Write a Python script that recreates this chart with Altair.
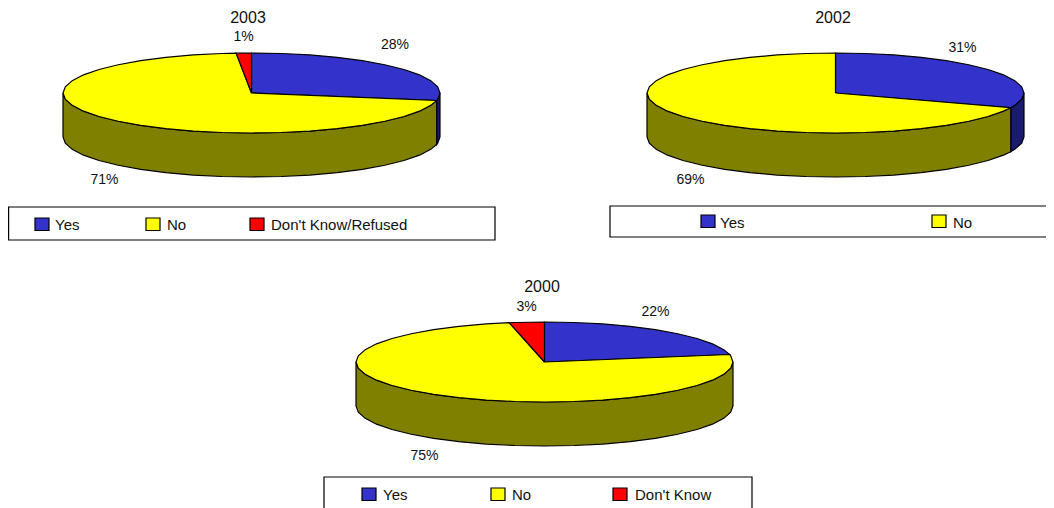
import math
import altair as alt
import pandas as pd

YEARS = ["2003", "2002", "2000"]
YES = [28, 31, 22]
NO = [70.7, 69, 75]
OTHER = [1.3, 0, 3]
OTHER_NAMES = ["Don't Know/Refused", None, "Don't Know"]

SLICE_NAMES = ["Yes", "No", "Other"]
COLORS = {"Yes": "#3333CC", "No": "#FFFF00", "Other": "#FF0000",
          "Yes wall": "#1A1A6E", "No wall": "#808000", "Other wall": "#800000"}

# layout (page pixels)
CENTERS = [(251.5, 93), (835.5, 93), (544.5, 362)]
RX, RY, DEPTH = 188.5, 40, 44
STEP = 9.0
TITLE_POS = [(248, 23), (833, 23), (542, 292)]
LABEL_POS = [
    {"Yes": (395, 49), "No": (104.5, 184), "Other": (243.5, 41)},
    {"Yes": (962.5, 52), "No": (690.5, 184)},
    {"Yes": (655.5, 316), "No": (424.5, 460), "Other": (526.5, 311)},
]
BOXES = [(8.6, 495, 207, 240), (610, 1070, 206, 237), (324, 752, 477, 530)]
SWATCH_X = [
    {"Yes": 35, "No": 146, "Other": 250},
    {"Yes": 701, "No": 932},
    {"Yes": 362, "No": 491, "Other": 613},
]
SWATCH_Y = [218, 215, 488]
SWATCH_SIZE = (14, 12.5)
TEXT_X = [
    {"Yes": 55, "No": 167, "Other": 271},
    {"Yes": 720, "No": 953},
    {"Yes": 383, "No": 512, "Other": 635},
]
TEXT_Y = [230, 228, 500]


def angles(a, b):
    pts = [a]
    t = (math.floor(a / STEP) + 1) * STEP
    while t < b - 1e-6:
        pts.append(t)
        t += STEP
    pts.append(b)
    return pts


def pt(c, deg, drop=0):
    r = math.radians(deg)
    return c[0] + RX * math.sin(r), c[1] - RY * math.cos(r) + drop


tops, walls = [], []
boxes, swatches, legend_text, pct_text, titles = [], [], [], [], []
for i, year in enumerate(YEARS):
    c = CENTERS[i]
    vals = {"Yes": YES[i], "No": NO[i], "Other": OTHER[i]}
    total = sum(vals.values())
    start = 0.0
    for name in SLICE_NAMES:
        v = vals[name]
        if v <= 0:
            continue
        end = start + 360.0 * v / total
        pid = f"{year}-{name}"
        ring = [c] + [pt(c, a) for a in angles(start, end)] + [c]
        for k, (x, y) in enumerate(ring):
            tops.append(dict(poly=pid, part=name, x=x, y=y, k=k))
        a0, a1 = max(start, 90.0), min(end, 270.0)
        if a1 > a0:
            arc = angles(a0, a1)
            ring = [pt(c, a) for a in arc] + [pt(c, a, DEPTH) for a in reversed(arc)]
            ring.append(ring[0])
            for k, (x, y) in enumerate(ring):
                walls.append(dict(poly=pid + " wall", part=name + " wall", x=x, y=y, k=k))
        lx, ly = LABEL_POS[i][name]
        pct_text.append(dict(x=lx, y=ly, t=f"{round(v)}%"))
        start = end
    x0, x1, y0, y1 = BOXES[i]
    boxes.append(dict(x=x0, x2=x1, y=y0, y2=y1))
    tx, ty = TITLE_POS[i]
    titles.append(dict(x=tx, y=ty, t=year))
    for name in SLICE_NAMES:
        if name not in SWATCH_X[i]:
            continue
        sx, sy = SWATCH_X[i][name], SWATCH_Y[i]
        swatches.append(dict(x=sx, x2=sx + SWATCH_SIZE[0], y=sy, y2=sy + SWATCH_SIZE[1], part=name))
        legend_text.append(dict(x=TEXT_X[i][name], y=TEXT_Y[i],
                                t=OTHER_NAMES[i] if name == "Other" else name))

X = alt.Scale(domain=[8, 1046], nice=False, zero=False)
Y = alt.Scale(domain=[508, 8], nice=False, zero=False)
FILL = alt.Scale(domain=list(COLORS), range=list(COLORS.values()))


def q(field, scale):
    return alt.X(field, type="quantitative", scale=scale, axis=None) if scale is X \
        else alt.Y(field, type="quantitative", scale=scale, axis=None)


def polys(rows):
    return alt.Chart(pd.DataFrame(rows)).mark_line(stroke="black", strokeWidth=1.2, clip=True).encode(
        x=q("x", X), y=q("y", Y),
        fill=alt.Fill("part:N", scale=FILL, legend=None),
        detail="poly:N",
        order="k:Q",
    )


def rects(rows, **kw):
    enc = dict(x=q("x", X), x2="x2:Q", y=q("y", Y), y2="y2:Q")
    if "part" in rows[0]:
        enc["fill"] = alt.Fill("part:N", scale=FILL, legend=None)
    return alt.Chart(pd.DataFrame(rows)).mark_rect(stroke="black", strokeWidth=1.2, clip=True, **kw).encode(**enc)


def texts(rows, size, align):
    return alt.Chart(pd.DataFrame(rows)).mark_text(
        font="Liberation Sans", fontSize=size, align=align, baseline="alphabetic", color="#111111"
    ).encode(x=q("x", X), y=q("y", Y), text="t:N")


chart = alt.layer(
    rects(boxes, fill="white"),
    rects(swatches),
    texts(legend_text, 15, "left"),
    polys(walls),
    polys(tops),
    texts(pct_text, 14, "center"),
    texts(titles, 16, "center"),
).resolve_scale(x="shared", y="shared").properties(
    width=1038, height=500, padding=0, autosize=alt.AutoSizeParams(type="none"),
).configure_view(stroke=None)

chart.save("out.html", embed_options={"renderer": "svg", "actions": False})
